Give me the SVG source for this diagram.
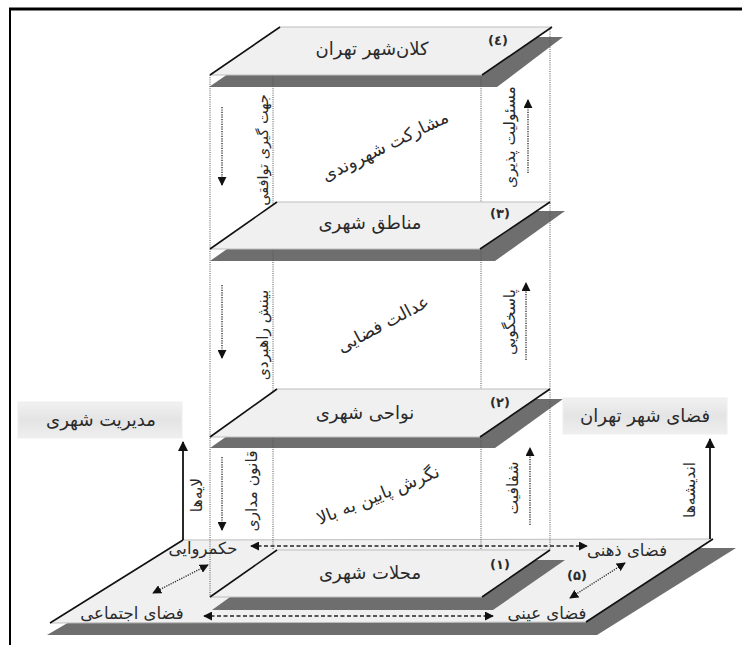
<svg xmlns="http://www.w3.org/2000/svg" width="742" height="645" viewBox="0 0 742 645">
<style>
text{font-family:"DejaVu Sans","Liberation Sans",sans-serif;fill:#2a2a2a}
.pl{font-size:18px}
.num{font-size:13px;font-weight:bold}
.side{font-size:18px}
.bl{font-size:16.5px}
.mid{font-size:17.5px}
.vt{font-size:15.5px}
.sh{fill:#6e6e6e}
.pf{fill:#f0f0f0;stroke:none}
.edge{stroke:#111;stroke-width:1.6;fill:none}
.hedge{stroke:#bdbdbd;stroke-width:1;fill:none}
.vl{stroke:#555;stroke-width:1;stroke-dasharray:1,1.2;fill:none}
.da{stroke:#222;stroke-width:1.3;stroke-dasharray:1.2,1.2;fill:none}
.dash{stroke:#222;stroke-width:1.4;stroke-dasharray:4,2.5;fill:none}
.sa{stroke:#111;stroke-width:1.8;fill:none}
.box{fill:url(#bg);stroke:#eeeeee;stroke-width:1}
</style>
<defs>
<marker id="ah" viewBox="0 0 10 10" refX="9" refY="5" markerWidth="9" markerHeight="9" markerUnits="userSpaceOnUse" orient="auto-start-reverse"><path d="M0,0 L10,5 L0,10 z" fill="#111"/></marker>
<marker id="ahs" viewBox="0 0 10 10" refX="9" refY="5" markerWidth="10" markerHeight="10" markerUnits="userSpaceOnUse" orient="auto-start-reverse"><path d="M0,0 L10,5 L0,10 z" fill="#111"/></marker>
<linearGradient id="bg" x1="0" y1="0" x2="0" y2="1"><stop offset="0" stop-color="#f1f1f1"/><stop offset="0.5" stop-color="#e4e4e4"/><stop offset="1" stop-color="#efefef"/></linearGradient>
</defs>
<rect x="0" y="0" width="742" height="645" fill="#ffffff"/>
<g id="frame">
<line x1="9" y1="9" x2="742" y2="9" stroke="#000" stroke-width="3"/>
<line x1="10" y1="8" x2="10" y2="645" stroke="#000" stroke-width="2"/>
</g>
<g id="base">
<polygon class="sh" points="196,548 736,548 597,635 47,635"/>
<polygon class="pf" points="183,540 713,539 586,622 50,623" fill="#f2f2f2"/>
<line class="hedge" x1="183" y1="540" x2="713" y2="539"/>
<line class="hedge" x1="50" y1="623" x2="586" y2="622"/>
<line class="edge" x1="183" y1="540" x2="50" y2="623"/>
<line class="edge" x1="713" y1="539" x2="586" y2="622"/>
</g>
<g id="shadows">
<polygon class="sh" points="282,37 563,37 497,87 209,87"/>
<polygon class="sh" points="281,211 565,211 495,261 210,261"/>
<polygon class="sh" points="280,399 563,399 495,448 210,448"/>
<polygon class="sh" points="282,560 565,560 493,610 212,610"/>
</g>
<g id="columns">
<line class="vl" x1="210" y1="75" x2="210" y2="597"/>
<line class="vl" x1="273" y1="75" x2="273" y2="550"/>
<line class="vl" x1="481" y1="75" x2="481" y2="550"/>
<line class="vl" x1="550" y1="27" x2="550" y2="550"/>
</g>
<g id="plane4">
<polygon class="pf" points="280,27 552,27 482,75 210,75"/>
<line class="hedge" x1="280" y1="27" x2="552" y2="27"/>
<line class="hedge" x1="210" y1="75" x2="482" y2="75"/>
<line class="edge" x1="280" y1="27" x2="210" y2="75"/>
<line class="edge" x1="552" y1="27" x2="482" y2="75"/>
<text class="pl" x="372" y="55" text-anchor="middle">کلان‌شهر تهران</text>
<text class="num" x="498" y="45" text-anchor="middle">(٤)</text>
</g>
<g id="plane3">
<polygon class="pf" points="277,202 550,202 480,249 210,249"/>
<line class="hedge" x1="277" y1="202" x2="550" y2="202"/>
<line class="hedge" x1="210" y1="249" x2="480" y2="249"/>
<line class="edge" x1="277" y1="202" x2="210" y2="249"/>
<line class="edge" x1="550" y1="202" x2="480" y2="249"/>
<text class="pl" x="370" y="229" text-anchor="middle">مناطق شهری</text>
<text class="num" x="500" y="218" text-anchor="middle">(٣)</text>
</g>
<g id="plane2">
<polygon class="pf" points="277,389 550,389 480,437 210,437"/>
<line class="hedge" x1="277" y1="389" x2="550" y2="389"/>
<line class="hedge" x1="210" y1="437" x2="480" y2="437"/>
<line class="edge" x1="277" y1="389" x2="210" y2="437"/>
<line class="edge" x1="550" y1="389" x2="480" y2="437"/>
<text class="pl" x="365" y="419" text-anchor="middle">نواحی شهری</text>
<text class="num" x="500" y="407" text-anchor="middle">(٢)</text>
</g>
<g id="plane1">
<polygon class="pf" points="277,550 550,550 482,597 210,597"/>
<line class="hedge" x1="277" y1="550" x2="550" y2="550"/>
<line class="hedge" x1="210" y1="597" x2="482" y2="597"/>
<line class="edge" x1="277" y1="550" x2="210" y2="597"/>
<line class="edge" x1="550" y1="550" x2="482" y2="597"/>
<text class="pl" x="370" y="579" text-anchor="middle">محلات شهری</text>
<text class="num" x="500" y="569" text-anchor="middle">(١)</text>
</g>
<g id="box-management">
<rect class="box" x="18" y="402" width="164" height="36"/>
<text class="side" x="101" y="426" text-anchor="middle">مدیریت شهری</text>
</g>
<g id="box-space">
<rect class="box" x="563" y="398" width="164" height="36"/>
<text class="side" x="645" y="422" text-anchor="middle">فضای شهر تهران</text>
</g>
<g id="base-labels">
<text class="bl" x="203" y="554" text-anchor="middle">حکمروایی</text>
<text class="bl" x="132" y="619" text-anchor="middle">فضای اجتماعی</text>
<text class="bl" x="627" y="556" text-anchor="middle">فضای ذهنی</text>
<text class="bl" x="547" y="619" text-anchor="middle">فضای عینی</text>
<text class="num" x="577" y="580" text-anchor="middle">(۵)</text>
</g>
<g id="middle-labels">
<text class="mid" transform="translate(385,146) rotate(-26)" text-anchor="middle" dominant-baseline="central">مشارکت شهروندی</text>
<text class="mid" transform="translate(383,324) rotate(-28)" text-anchor="middle" dominant-baseline="central">عدالت فضایی</text>
<text class="mid" transform="translate(378,495) rotate(-22)" text-anchor="middle" dominant-baseline="central">نگرش پایین به بالا</text>
</g>
<g id="side-labels">
<text class="vt" font-size="14.5" transform="translate(263,150) rotate(-90)" text-anchor="middle" dominant-baseline="central" style="font-size:14.5px">جهت گیری توافقی</text>
<text class="vt" transform="translate(263,335) rotate(-90)" text-anchor="middle" dominant-baseline="central">بینش راهبردی</text>
<text class="vt" transform="translate(252,491) rotate(-90)" text-anchor="middle" dominant-baseline="central">قانون مداری</text>
<text class="vt" transform="translate(197,495) rotate(-90)" text-anchor="middle" dominant-baseline="central">لایه‌ها</text>
<text class="vt" transform="translate(510,137) rotate(-90)" text-anchor="middle" dominant-baseline="central">مسئولیت پذیری</text>
<text class="vt" transform="translate(510,322) rotate(-90)" text-anchor="middle" dominant-baseline="central">پاسخگویی</text>
<text class="vt" transform="translate(513,488) rotate(-90)" text-anchor="middle" dominant-baseline="central">شفافیت</text>
<text class="vt" transform="translate(690,490) rotate(-90)" text-anchor="middle" dominant-baseline="central">اندیشه‌ها</text>
</g>
<g id="connectors">
<line class="da" x1="222" y1="107" x2="222" y2="185" marker-end="url(#ah)"/>
<line class="da" x1="222" y1="285" x2="222" y2="358" marker-end="url(#ah)"/>
<line class="da" x1="222" y1="457" x2="222" y2="530" marker-end="url(#ah)"/>
<line class="da" x1="528" y1="173" x2="528" y2="100" marker-end="url(#ah)"/>
<line class="da" x1="526" y1="360" x2="526" y2="283" marker-end="url(#ah)"/>
<line class="da" x1="530" y1="525" x2="530" y2="448" marker-end="url(#ah)"/>
<line class="sa" x1="183" y1="540" x2="183" y2="442" marker-end="url(#ahs)"/>
<line class="sa" x1="710" y1="539" x2="710" y2="439" marker-end="url(#ahs)"/>
<line class="dash" x1="251" y1="546" x2="587" y2="546" marker-start="url(#ah)" marker-end="url(#ah)"/>
<line class="dash" x1="204" y1="616" x2="493" y2="616" marker-start="url(#ah)" marker-end="url(#ah)"/>
<line class="da" x1="208" y1="565" x2="153" y2="593" marker-start="url(#ah)" marker-end="url(#ah)"/>
<line class="da" x1="625" y1="563" x2="570" y2="598" marker-start="url(#ah)" marker-end="url(#ah)"/>
</g>
</svg>
